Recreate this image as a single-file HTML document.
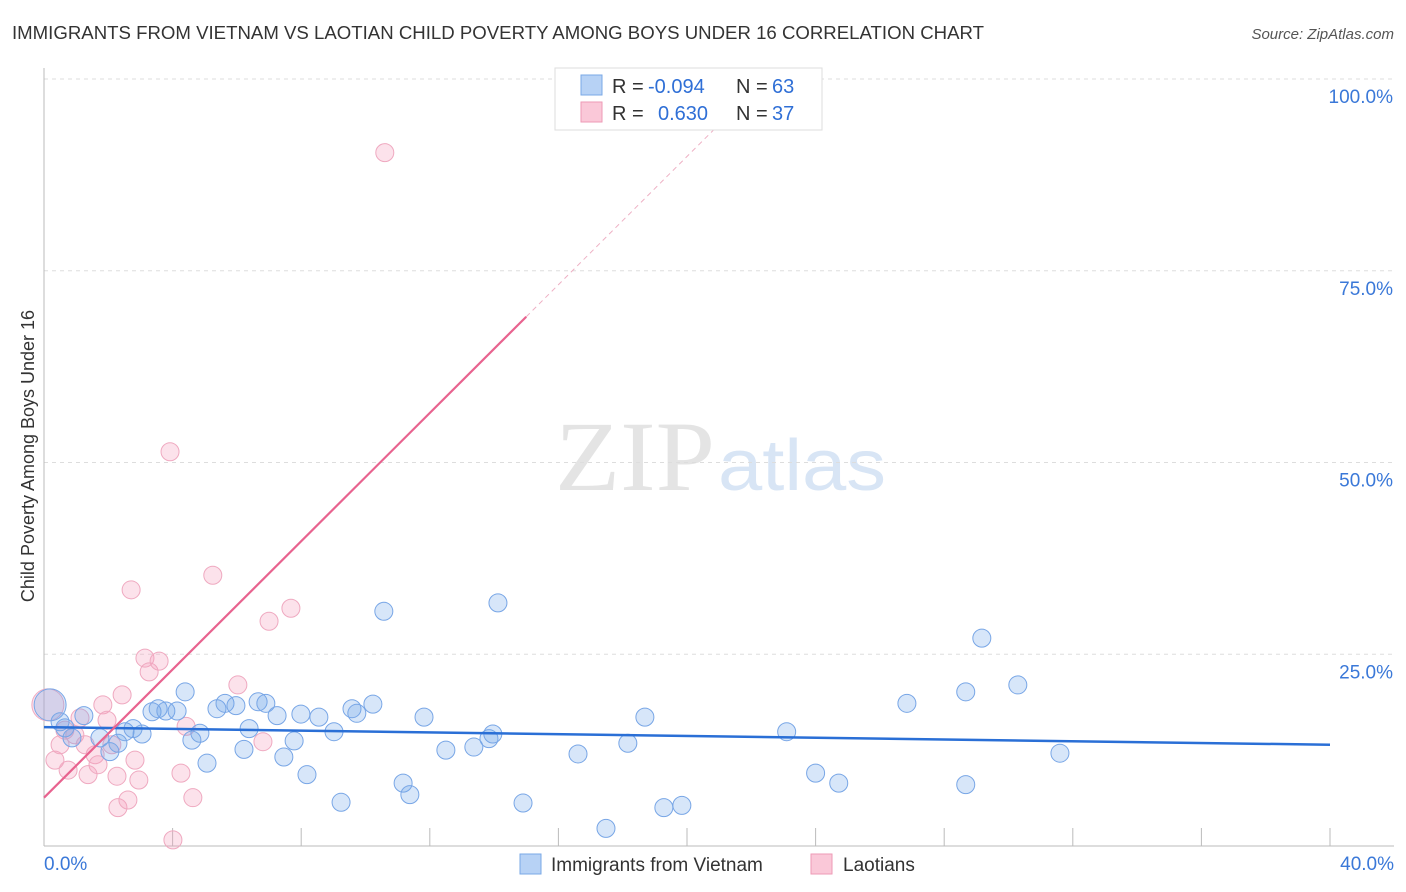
<!DOCTYPE html>
<html><head><meta charset="utf-8"><style>
body{margin:0;background:#fff;font-family:"Liberation Sans",sans-serif;}
svg{display:block}
</style></head><body>
<svg id="c" width="1406" height="892">
<text x="12" y="39" font-size="18" fill="#333" textLength="972" lengthAdjust="spacingAndGlyphs">IMMIGRANTS FROM VIETNAM VS LAOTIAN CHILD POVERTY AMONG BOYS UNDER 16 CORRELATION CHART</text>
<text x="1394" y="39" font-size="15" fill="#555" font-style="italic" text-anchor="end">Source: ZipAtlas.com</text>
<text x="555" y="490" font-size="100" fill="#e4e4e4" font-family="Liberation Serif,serif" textLength="160" lengthAdjust="spacingAndGlyphs">ZIP</text>
<text x="718" y="490" font-size="72" fill="#d8e5f5" textLength="168" lengthAdjust="spacingAndGlyphs">atlas</text>
<text transform="translate(34,456) rotate(-90)" font-size="18" fill="#333" text-anchor="middle">Child Poverty Among Boys Under 16</text>
<g id="grid"></g><g id="marks"></g>
<g>
<rect x="555" y="68" width="267" height="62" fill="#fff" stroke="#ddd"/>
<rect x="581" y="75" width="21" height="20" fill="#b7d2f5" stroke="#7aa8e6"/>
<rect x="581" y="102" width="21" height="20" fill="#fac8d8" stroke="#ee9ab6"/>
<text x="612" y="93" font-size="20" fill="#333">R =</text>
<text x="648" y="93" font-size="20" fill="#2f6fd6">-0.094</text>
<text x="736" y="93" font-size="20" fill="#333">N =</text>
<text x="772" y="93" font-size="20" fill="#2f6fd6">63</text>
<text x="612" y="120" font-size="20" fill="#333">R =</text>
<text x="658" y="120" font-size="20" fill="#2f6fd6">0.630</text>
<text x="736" y="120" font-size="20" fill="#333">N =</text>
<text x="772" y="120" font-size="20" fill="#2f6fd6">37</text>
</g>
<g>
<rect x="520" y="854" width="21" height="20" fill="#b7d2f5" stroke="#7aa8e6"/>
<text x="551" y="871" font-size="19" fill="#333">Immigrants from Vietnam</text>
<rect x="811" y="854" width="21" height="20" fill="#fac8d8" stroke="#ee9ab6"/>
<text x="843" y="871" font-size="19" fill="#333">Laotians</text>
</g>
</svg>
<script>
const blueX=[0.19,0.5,0.65,1.24,0.87,1.74,2.05,2.3,2.52,2.77,3.05,3.36,3.55,3.79,4.14,4.39,4.6,4.85,5.07,5.38,5.63,5.97,6.22,6.38,6.66,6.9,7.25,7.46,7.78,7.99,8.18,8.55,9.02,9.24,9.58,9.73,10.23,10.57,11.17,11.38,11.82,12.5,13.37,13.84,13.96,14.12,14.9,16.61,17.48,18.16,18.69,19.28,19.84,23.1,24.0,24.72,26.84,28.67,28.67,29.17,30.29,31.6];
const blueY=[18.4,16.2,15.4,17.0,14.1,14.1,12.3,13.4,14.9,15.3,14.6,17.5,17.9,17.6,17.6,20.1,13.8,14.7,10.8,17.9,18.6,18.3,12.6,15.3,18.8,18.6,17.0,11.6,13.7,17.2,9.3,16.8,14.9,5.7,17.9,17.3,18.5,30.6,8.2,6.7,16.8,12.5,12.9,14.0,14.6,31.7,5.6,12.0,2.3,13.4,16.8,5.0,5.3,14.9,9.5,8.2,18.6,20.1,8.0,27.1,21.0,12.1];
const pinkX=[0.12,0.34,0.5,0.65,0.75,0.96,1.12,1.37,1.59,1.83,1.96,2.27,2.43,2.3,2.61,2.71,2.83,2.95,3.14,3.27,3.58,3.92,4.26,4.42,4.63,5.25,6.03,6.81,7.0,7.68,10.6,4.01,1.68,2.11,1.28];
const pinkY=[18.4,11.2,13.2,15.1,9.9,14.5,16.7,9.3,11.9,18.4,16.4,9.1,19.7,5.0,6.0,33.4,11.2,8.6,24.5,22.7,24.1,51.4,9.5,15.6,6.3,35.3,21.0,13.6,29.3,31.0,90.4,0.8,10.6,13.2,13.2];
const yTicks=[25,50,75,100];
const xTicks=[0,4,8,12,16,20,24,28,32,36,40];
const blueTrend=[15.5,13.2];
const pinkTrend=[6.3,4.18];
const NS='http://www.w3.org/2000/svg';
const sx=v=>44+v/40*1286, sy=v=>846-v/100*767;
function mk(p,t,a){const e=document.createElementNS(NS,t);for(const k in a)e.setAttribute(k,a[k]);p.appendChild(e);return e;}
const g=document.getElementById('grid'),m=document.getElementById('marks');
yTicks.forEach(t=>{
 const l=mk(g,'line',{x1:44,x2:1394,y1:sy(t),y2:sy(t),stroke:'#ddd','stroke-dasharray':'4,4'});
 
 
 const tx=mk(g,'text',{x:1393,y:sy(t)+24,'font-size':19,fill:'#3a78d8','text-anchor':'end'});
 tx.textContent=t.toFixed(1)+'%';
 
 
});
let ax=mk(g,'line',{x1:44,x2:44,y1:68,y2:846,stroke:'#bbb'});


ax=mk(g,'line',{x1:44,x2:1394,y1:846,y2:846,stroke:'#bbb'});


xTicks.forEach(t=>{
 const l=mk(g,'line',{x1:sx(t),x2:sx(t),y1:828,y2:846,stroke:'#bbb'});
 
 
});
[[0,'start',44],[40,'end',1394]].forEach(([t,a,x])=>{
 const tx=mk(g,'text',{x:x,y:870,'font-size':19,fill:'#3a78d8','text-anchor':a});
 tx.textContent=t.toFixed(1)+'%';
 
 
});
function dots(X,Y,fill,stroke,name){
 X.forEach((x,i)=>{
  const c=mk(m,'circle',{cx:sx(x),cy:sy(Y[i]),r:i===0?16:9,fill:fill,stroke:stroke,'stroke-width':1});
  
  
 });
}
dots(pinkX,pinkY,'rgba(244,160,190,0.3)','#efa9c0','laotians-point');
dots(blueX,blueY,'rgba(110,165,235,0.28)','#78a6e6','vietnam-point');
let tl=mk(m,'line',{x1:sx(0),x2:sx(40),y1:sy(blueTrend[0]),y2:sy(blueTrend[1]),stroke:'#2a6fd6','stroke-width':2.5});


tl=mk(m,'line',{x1:sx(0),x2:sx(15),y1:sy(pinkTrend[0]),y2:sy(pinkTrend[0]+pinkTrend[1]*15),stroke:'#e8638f','stroke-width':2.2});


tl=mk(m,'line',{x1:sx(15),x2:sx(22.4),y1:sy(pinkTrend[0]+pinkTrend[1]*15),y2:sy(pinkTrend[0]+pinkTrend[1]*22.4),stroke:'#eeb0c4','stroke-width':1,'stroke-dasharray':'5,4'});


</script>
</body></html>
